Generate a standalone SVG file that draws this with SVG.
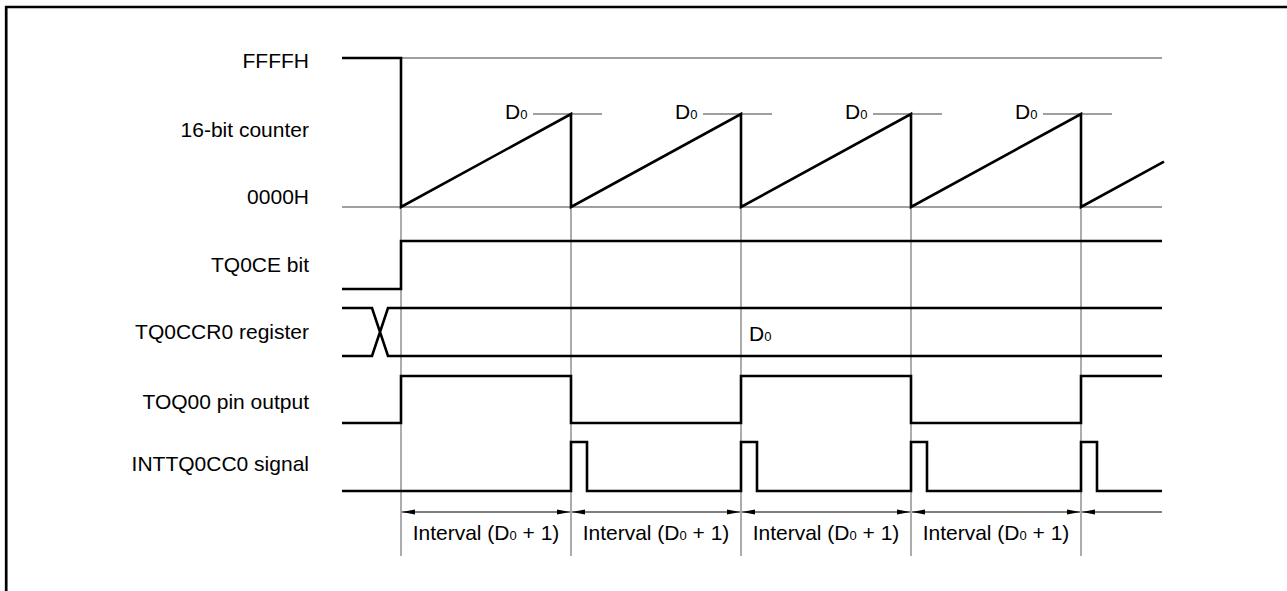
<svg xmlns="http://www.w3.org/2000/svg" width="1287" height="591" viewBox="0 0 1287 591">
<style>
.lbl{font-family:"Liberation Sans",Arial,sans-serif;font-size:21px;fill:#000;}
.sub{font-size:13px;}
.grid{stroke:#808080;stroke-width:1.3;fill:none;}
.sig{stroke:#000;stroke-width:2.6;fill:none;stroke-linejoin:miter;}
.arr{stroke:#000;stroke-width:1.1;fill:none;}
</style>
<defs>
<marker id="ah" markerUnits="userSpaceOnUse" markerWidth="14" markerHeight="6" refX="13" refY="3" orient="auto-start-reverse" viewBox="0 0 14 6">
<path d="M0,0.5 L13,3 L0,5.5 z" fill="#000"/>
</marker>
</defs>
<rect width="1287" height="591" fill="#fff"/>
<path d="M6.2,591 V7 H1287" stroke="#000" stroke-width="2.7" fill="none"/>

<g id="grid">
<path class="grid" d="M401,58 H1162 M342,207 H1162"/>
<path class="grid" d="M401,207 V556 M571,207 V556 M741,207 V556 M911,207 V556 M1081,207 V556"/>
<path class="grid" d="M533,114 H602 M703,114 H772 M873,114 H942 M1043,114 H1112"/>
</g>

<g id="counter">
<text class="lbl" x="309" y="68" text-anchor="end">FFFFH</text>
<text class="lbl" x="309" y="137" text-anchor="end">16-bit counter</text>
<text class="lbl" x="309" y="204" text-anchor="end">0000H</text>
<path class="sig" d="M342,58 H401 V207 L571,114 V207 L741,114 V207 L911,114 V207 L1081,114 V207 L1164,161.6"/>
<text class="lbl" x="505" y="119">D<tspan class="sub">0</tspan></text>
<text class="lbl" x="675" y="119">D<tspan class="sub">0</tspan></text>
<text class="lbl" x="845" y="119">D<tspan class="sub">0</tspan></text>
<text class="lbl" x="1015" y="119">D<tspan class="sub">0</tspan></text>
</g>

<g id="tq0ce">
<text class="lbl" x="309" y="272" text-anchor="end">TQ0CE bit</text>
<path class="sig" d="M342,289 H401 V241 H1162"/>
</g>

<g id="tq0ccr0">
<text class="lbl" x="309" y="339" text-anchor="end">TQ0CCR0 register</text>
<path class="sig" d="M342,308 H372 L388,356 H1162 M342,356 H372 L388,308 H1162"/>
<text class="lbl" x="749" y="341">D<tspan class="sub">0</tspan></text>
</g>

<g id="toq00">
<text class="lbl" x="309" y="409" text-anchor="end">TOQ00 pin output</text>
<path class="sig" d="M342,423 H401 V376 H571 V423 H741 V376 H911 V423 H1081 V376 H1162"/>
</g>

<g id="inttq0cc0">
<text class="lbl" x="309" y="471" text-anchor="end">INTTQ0CC0 signal</text>
<path class="sig" d="M342,491 H571 V442 H587 V491 H741 V442 H757 V491 H911 V442 H927 V491 H1081 V442 H1097 V491 H1162"/>
</g>

<g id="connectors">
<path class="arr" d="M402,512 H570" marker-start="url(#ah)" marker-end="url(#ah)"/>
<path class="arr" d="M572,512 H740" marker-start="url(#ah)" marker-end="url(#ah)"/>
<path class="arr" d="M742,512 H910" marker-start="url(#ah)" marker-end="url(#ah)"/>
<path class="arr" d="M912,512 H1080" marker-start="url(#ah)" marker-end="url(#ah)"/>
<path class="arr" d="M1082,512 H1162" marker-start="url(#ah)"/>
</g>

<g id="intervals">
<text class="lbl" x="486" y="540" text-anchor="middle">Interval (D<tspan class="sub">0</tspan> + 1)</text>
<text class="lbl" x="656" y="540" text-anchor="middle">Interval (D<tspan class="sub">0</tspan> + 1)</text>
<text class="lbl" x="826" y="540" text-anchor="middle">Interval (D<tspan class="sub">0</tspan> + 1)</text>
<text class="lbl" x="996" y="540" text-anchor="middle">Interval (D<tspan class="sub">0</tspan> + 1)</text>
</g>
</svg>
